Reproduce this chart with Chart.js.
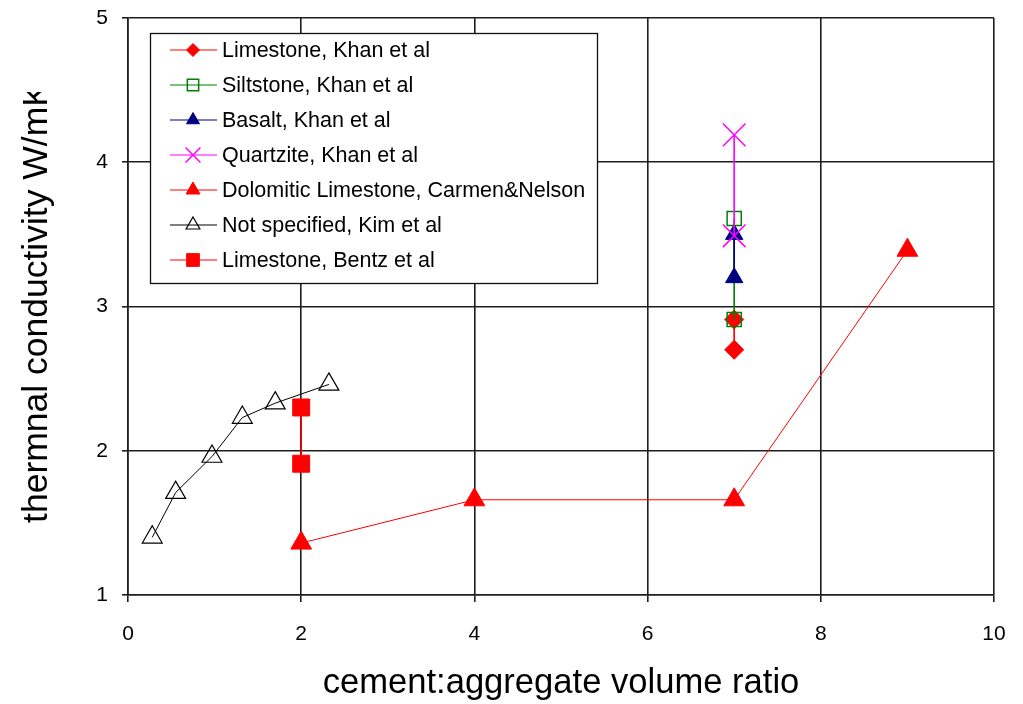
<!DOCTYPE html>
<html>
<head>
<meta charset="utf-8">
<script src="https://cdn.jsdelivr.net/npm/chart.js@4/dist/chart.umd.min.js"></script>
<style>
  html, body { margin: 0; padding: 0; background: #ffffff; }
  #wrap { width: 1023px; height: 704px; }
</style>
</head>
<body>
<div id="wrap"><canvas id="c" width="1023" height="704"></canvas></div>
<script>
// ---- data ----
const seriesNames = [
  "Limestone, Khan et al",
  "Siltstone, Khan et al",
  "Basalt, Khan et al",
  "Quartzite, Khan et al",
  "Dolomitic Limestone, Carmen&Nelson",
  "Not specified, Kim et al",
  "Limestone, Bentz et al"
];
const limestoneKhanX = [7, 7];
const limestoneKhanY = [2.91, 2.70];
const siltstoneKhanX = [7, 7];
const siltstoneKhanY = [3.61, 2.91];
const basaltKhanX = [7, 7];
const basaltKhanY = [3.50, 3.20];
const quartziteKhanX = [7, 7];
const quartziteKhanY = [4.19, 3.49];
const dolomiticX = [2, 4, 7, 9];
const dolomiticY = [1.36, 1.66, 1.66, 3.39];
const kimX = [0.28, 0.55, 0.97, 1.32, 1.70, 2.32];
const kimY = [1.40, 1.71, 1.96, 2.23, 2.33, 2.46];
const bentzX = [2, 2];
const bentzY = [2.30, 1.91];
const xTicks = [0, 2, 4, 6, 8, 10];
const yTicks = [1, 2, 3, 4, 5];
const xTitle = "cement:aggregate volume ratio";
const yTitle = "thermnal conductivity W/mK";

const xs = [limestoneKhanX, siltstoneKhanX, basaltKhanX, quartziteKhanX, dolomiticX, kimX, bentzX];
const ys = [limestoneKhanY, siltstoneKhanY, basaltKhanY, quartziteKhanY, dolomiticY, kimY, bentzY];

// ---- styles ----
const styles = [
  { color: '#ff0000', point: 'rectRot', r: 9.5, fill: '#ff0000', pbw: 1, lr: 6.5 },
  { color: '#008000', point: 'rect', r: 10, fill: 'rgba(0,0,0,0)', pbw: 1.5, lr: 8 },
  { color: '#000080', point: 'triangle', r: 10, fill: '#000080', pbw: 1, lr: 7.5 },
  { color: '#ff00ff', point: 'crossRot', r: 16, fill: 'rgba(0,0,0,0)', pbw: 1.5, lr: 10.5 },
  { color: '#ff0000', point: 'triangle', r: 12, fill: '#ff0000', pbw: 1, lr: 8 },
  { color: '#000000', point: 'triangle', r: 11.5, fill: 'rgba(0,0,0,0)', pbw: 1.2, lr: 8 },
  { color: '#ff0000', point: 'rect', r: 12, fill: '#ff0000', pbw: 1, lr: 9 }
];

const datasets = seriesNames.map((name, i) => ({
  label: name,
  data: xs[i].map((x, k) => ({ x: x, y: ys[i][k] })),
  showLine: true,
  borderColor: styles[i].color,
  borderWidth: 1,
  backgroundColor: styles[i].fill,
  pointStyle: styles[i].point,
  pointRadius: styles[i].r,
  pointBackgroundColor: styles[i].fill,
  pointBorderColor: styles[i].color,
  pointBorderWidth: styles[i].pbw,
  order: seriesNames.length - i
}));

function marker(ctx, style, x, y, r, fill, stroke, lw) {
  ctx.save();
  ctx.beginPath();
  if (style === 'rectRot') {
    ctx.moveTo(x, y - r); ctx.lineTo(x + r, y); ctx.lineTo(x, y + r); ctx.lineTo(x - r, y); ctx.closePath();
  } else if (style === 'rect') {
    const h = r * Math.SQRT1_2;
    ctx.rect(x - h, y - h, 2 * h, 2 * h);
  } else if (style === 'triangle') {
    ctx.moveTo(x, y - r);
    ctx.lineTo(x + 0.866 * r, y + 0.5 * r);
    ctx.lineTo(x - 0.866 * r, y + 0.5 * r);
    ctx.closePath();
  } else if (style === 'crossRot') {
    const o = r * Math.SQRT1_2;
    ctx.moveTo(x - o, y - o); ctx.lineTo(x + o, y + o);
    ctx.moveTo(x + o, y - o); ctx.lineTo(x - o, y + o);
  }
  ctx.fillStyle = fill;
  ctx.strokeStyle = stroke;
  ctx.lineWidth = lw;
  if (style !== 'crossRot') ctx.fill();
  ctx.stroke();
  ctx.restore();
}

const customText = {
  id: 'customText',
  afterDraw(chart) {
    const ctx = chart.ctx;
    const area = chart.chartArea;
    // y-axis title, clipped at the top like the reference
    ctx.save();
    ctx.beginPath();
    ctx.rect(0, 92, area.left, 704);
    ctx.clip();
    ctx.translate(47, 303);
    ctx.rotate(-Math.PI / 2);
    ctx.font = '35.5px "Liberation Sans", Arial, sans-serif';
    ctx.fillStyle = '#000';
    ctx.textAlign = 'center';
    ctx.textBaseline = 'alphabetic';
    ctx.fillText(yTitle, 0, 0);
    ctx.restore();

    // legend box inside plot
    const bx = 150, by = 33, bw = 447, bh = 250;
    ctx.save();
    ctx.fillStyle = '#ffffff';
    ctx.fillRect(bx, by, bw, bh);
    ctx.strokeStyle = '#111';
    ctx.lineWidth = 1.3;
    ctx.strokeRect(bx + 0.5, by + 0.5, bw, bh);
    ctx.font = '21.5px "Liberation Sans", Arial, sans-serif';
    ctx.textAlign = 'left';
    ctx.textBaseline = 'middle';
    seriesNames.forEach((name, i) => {
      const yy = 50 + i * 35;
      const s = styles[i];
      ctx.strokeStyle = s.color;
      ctx.lineWidth = 1.2;
      ctx.beginPath();
      ctx.moveTo(170, yy);
      ctx.lineTo(217, yy);
      ctx.stroke();
      marker(ctx, s.point, 193, yy, s.lr, s.fill, s.color, s.pbw);
      ctx.fillStyle = '#000';
      ctx.fillText(name, 222, yy + 1);
    });
    ctx.restore();
  }
};

new Chart(document.getElementById('c'), {
  type: 'scatter',
  data: { datasets: datasets },
  plugins: [customText],
  options: {
    responsive: false,
    animation: false,
    devicePixelRatio: 1,
    layout: { padding: { top: 18, right: 29, left: 0, bottom: 0 } },
    plugins: { legend: { display: false }, tooltip: { enabled: false } },
    scales: {
      x: {
        type: 'linear',
        min: xTicks[0],
        max: xTicks[xTicks.length - 1],
        afterBuildTicks: (s) => { s.ticks = xTicks.map(v => ({ value: v })); },
        afterFit: (s) => { s.height = 109; s.paddingLeft = 0; s.paddingRight = 0; },
        ticks: { color: '#000', padding: 20, font: { family: '"Liberation Sans", Arial, sans-serif', size: 21 } },
        grid: { color: '#1e1e1e', lineWidth: 1.6, tickLength: 7 },
        border: { color: '#1e1e1e', width: 1.6 },
        title: {
          display: true, text: xTitle, color: '#000',
          font: { family: '"Liberation Sans", Arial, sans-serif', size: 34.6, lineHeight: 1 },
          padding: { top: 0, bottom: 3.5 }
        }
      },
      y: {
        type: 'linear',
        min: yTicks[0],
        max: yTicks[yTicks.length - 1],
        afterBuildTicks: (s) => { s.ticks = yTicks.map(v => ({ value: v })); },
        afterFit: (s) => { s.width = 128; s.paddingTop = 0; s.paddingBottom = 0; },
        ticks: { color: '#000', padding: 14, font: { family: '"Liberation Sans", Arial, sans-serif', size: 21 } },
        grid: { color: '#1e1e1e', lineWidth: 1.6, tickLength: 6 },
        border: { color: '#1e1e1e', width: 1.6 }
      }
    }
  }
});
</script>
</body>
</html>
